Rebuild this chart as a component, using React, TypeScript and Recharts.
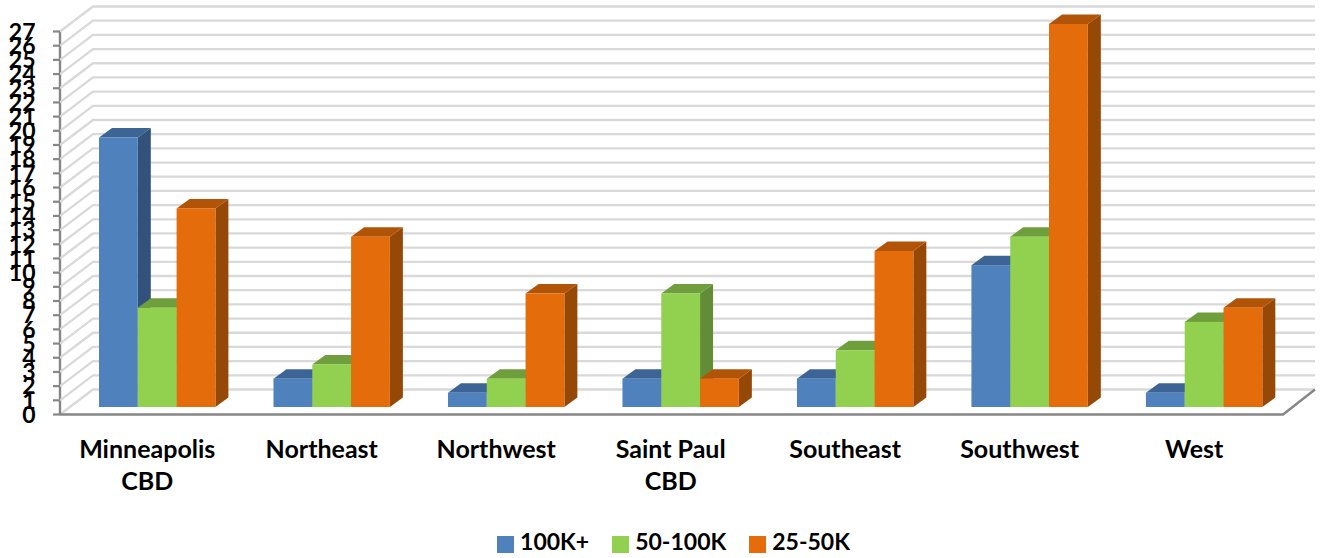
import React from 'react';
import { BarChart, Bar, CartesianGrid, XAxis, YAxis, Legend } from 'recharts';

// Office buildings by submarket and size class
const categories = [
  'Minneapolis\nCBD',
  'Northeast',
  'Northwest',
  'Saint Paul\nCBD',
  'Southeast',
  'Southwest',
  'West',
];
const large = [19, 2, 1, 2, 2, 10, 1];
const medium = [7, 3, 2, 8, 4, 12, 6];
const small = [14, 12, 8, 2, 11, 27, 7];
const yTicks = [
  0, 1, 2, 3, 4, 5, 6, 7, 8, 9, 10, 11, 12, 13, 14, 15, 16, 17, 18, 19, 20, 21, 22, 23, 24, 25, 26, 27,
];

const data = categories.map((name, i) => ({
  name,
  large: large[i],
  medium: medium[i],
  small: small[i],
}));

const WIDTH = 1320;
const HEIGHT = 558;
const FONT = 'Lato, sans-serif';
const Y_AXIS_WIDTH = 1;
const MARGIN = { top: 24, right: 28.6, bottom: 0, left: 70 - Y_AXIS_WIDTH };
const X_AXIS_HEIGHT = 151;
const PLOT_HEIGHT = HEIGHT - MARGIN.top - X_AXIS_HEIGHT;
const PLOT_BOTTOM = HEIGHT - X_AXIS_HEIGHT;

// fake 3D: the bars stand part way into the floor, walls sit behind them
const BAR_DX = 13;
const BAR_DY = 9.5;
const FRONT_DX = 10;
const FRONT_DY = 7.5;
const WALL_DX = 33;
const WALL_DY = 25;
const FRONT_LEFT = 60;
const FRONT_RIGHT = 1283;
const GRID = '#d9d9d9';
const AXIS = '#868686';

function Box3D(props: any) {
  const { x, y, width, height, front, top, side } = props;
  if (!height) return null;
  const r = x + width;
  const b = y + height;
  return (
    <g>
      <polygon
        points={`${r},${y} ${r + BAR_DX},${y - BAR_DY} ${r + BAR_DX},${b - BAR_DY} ${r},${b}`}
        fill={side}
      />
      <polygon
        points={`${x},${y} ${x + BAR_DX},${y - BAR_DY} ${r + BAR_DX},${y - BAR_DY} ${r},${y}`}
        fill={top}
      />
      <rect x={x} y={y} width={width} height={height} fill={front} />
    </g>
  );
}

// one wall gridline; the line at zero also draws the floor edge and the value axis
function WallLine({ y1 }: any) {
  const frontY = y1 + FRONT_DY;
  const backY = frontY - WALL_DY;
  const backLeft = FRONT_LEFT + WALL_DX;
  const backRight = FRONT_RIGHT + WALL_DX - 1;
  const isZero = Math.abs(y1 - PLOT_BOTTOM) < 0.5;
  return (
    <g>
      <polyline
        points={`${FRONT_LEFT},${frontY} ${backLeft},${backY} ${backRight},${backY}`}
        fill="none"
        stroke={GRID}
        strokeWidth={2.3}
      />
      {isZero && (
        <>
          <line x1={FRONT_LEFT} y1={frontY} x2={FRONT_LEFT} y2={frontY - PLOT_HEIGHT} stroke={AXIS} strokeWidth={2.4} />
          <polyline
            points={`${FRONT_LEFT},${frontY} ${FRONT_RIGHT},${frontY} ${backRight},${backY}`}
            fill="none"
            stroke={AXIS}
            strokeWidth={2.4}
          />
        </>
      )}
      <line x1={FRONT_LEFT - 7} y1={frontY} x2={FRONT_LEFT} y2={frontY} stroke={AXIS} strokeWidth={2.2} />
    </g>
  );
}

function ValueTick({ y, payload }: any) {
  return (
    <text
      x={35.5}
      y={y + FRONT_DY}
      dy="0.36em"
      textAnchor="end"
      fontFamily={FONT}
      fontWeight={700}
      fontSize={23}
      fill="#000"
    >
      {payload.value}
    </text>
  );
}

function CategoryTick({ x, payload }: any) {
  const lines = String(payload.value).split('\n');
  return (
    <text textAnchor="middle" fontFamily={FONT} fontWeight={700} fontSize={25} fill="#000">
      {lines.map((line, i) => (
        <tspan key={line} x={x - FRONT_DX} y={458 + i * 32}>
          {line}
        </tspan>
      ))}
    </text>
  );
}

export default function App() {
  return (
    <div style={{ position: 'absolute', left: 0, top: 0, width: WIDTH, height: HEIGHT }}>
      <BarChart width={WIDTH} height={HEIGHT} data={data} margin={MARGIN} barSize={38.8} barGap={0}>
        <CartesianGrid vertical={false} horizontal={(p: any) => <WallLine key={p.key} {...p} />} />
        <YAxis
          type="number"
          domain={[0, 27]}
          ticks={yTicks}
          interval={0}
          width={Y_AXIS_WIDTH}
          axisLine={false}
          tickLine={false}
          tick={<ValueTick />}
        />
        <XAxis
          dataKey="name"
          interval={0}
          height={X_AXIS_HEIGHT}
          axisLine={false}
          tickLine={false}
          tick={<CategoryTick />}
        />
        <Legend
          layout="horizontal"
          verticalAlign="middle"
          align="center"
          iconType="square"
          iconSize={17}
          itemSorter={null}
          wrapperStyle={{
            top: 527,
            bottom: 'auto',
            left: 25,
            width: WIDTH,
            fontFamily: FONT,
            fontWeight: 700,
            fontSize: 23,
          }}
          formatter={(value) => (
            <span style={{ color: '#000', marginLeft: 2, marginRight: 13 }}>{value}</span>
          )}
        />
        <Bar
          dataKey="large"
          name="100K+"
          fill="#4f81bd"
          isAnimationActive={false}
          shape={(p: any) => <Box3D {...p} front="#4f81bd" top="#3c6494" side="#33527b" />}
        />
        <Bar
          dataKey="medium"
          name="50-100K"
          fill="#92d050"
          isAnimationActive={false}
          shape={(p: any) => <Box3D {...p} front="#92d050" top="#6f9e3c" side="#628c36" />}
        />
        <Bar
          dataKey="small"
          name="25-50K"
          fill="#e46c0a"
          isAnimationActive={false}
          shape={(p: any) => <Box3D {...p} front="#e46c0a" top="#b25408" side="#964807" />}
        />
      </BarChart>
    </div>
  );
}
